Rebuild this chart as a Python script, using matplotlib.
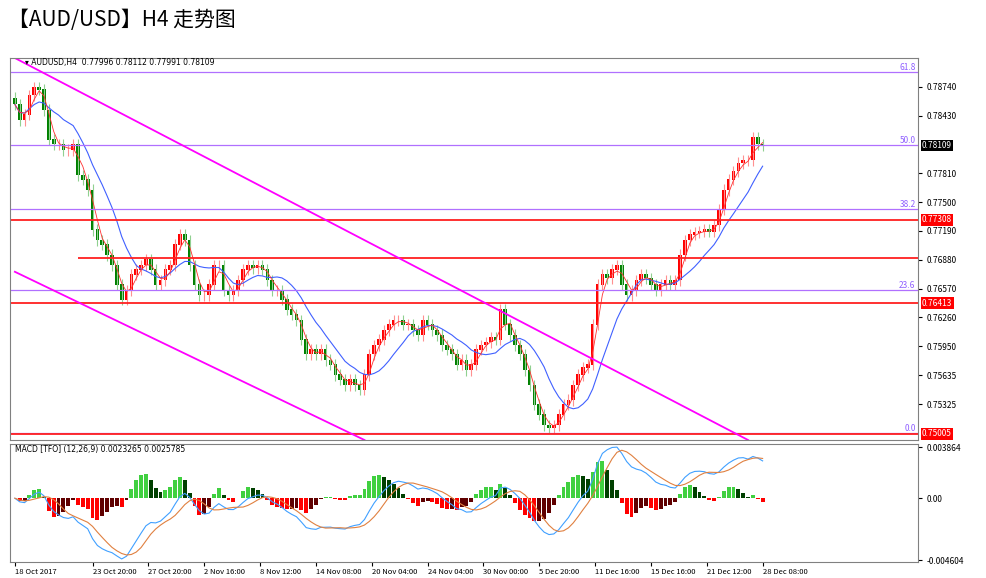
import matplotlib
matplotlib.use("Agg")
import matplotlib.pyplot as plt
import numpy as np

plt.rcParams['font.family'] = ['Noto Sans CJK SC', 'DejaVu Sans']

# H4 closes (roughly every second bar)
closes = [
    0.7855, 0.7838, 0.7844, 0.7865, 0.7873, 0.7871, 0.7849, 0.7817, 0.7812, 0.7812,
    0.7806, 0.7806, 0.7812, 0.7779, 0.7774, 0.7763, 0.7720, 0.7709, 0.7704, 0.7693,
    0.7682, 0.7661, 0.7645, 0.7655, 0.7672, 0.7677, 0.7682, 0.7688, 0.7677, 0.7661,
    0.7666, 0.7677, 0.7682, 0.7704, 0.7715, 0.7709, 0.7682, 0.7661, 0.7650, 0.7650,
    0.7661, 0.7682, 0.7682, 0.7655, 0.7650, 0.7655, 0.7666, 0.7677, 0.7682, 0.7679,
    0.7682, 0.7677, 0.7666, 0.7655, 0.7655, 0.7645, 0.7634, 0.7629, 0.7623, 0.7602,
    0.7586, 0.7591, 0.7586, 0.7591, 0.7580, 0.7575, 0.7564, 0.7559, 0.7553, 0.7559,
    0.7553, 0.7548, 0.7564, 0.7586, 0.7596, 0.7602, 0.7612, 0.7618, 0.7623, 0.7623,
    0.7618, 0.7618, 0.7612, 0.7607, 0.7623, 0.7618, 0.7612, 0.7607, 0.7596, 0.7591,
    0.7586, 0.7575, 0.7580, 0.7569, 0.7575, 0.7591, 0.7596, 0.7599, 0.7604, 0.7602,
    0.7634, 0.7618, 0.7607, 0.7596, 0.7586, 0.7569, 0.7553, 0.7532, 0.7521, 0.7510,
    0.7507, 0.7510, 0.7521, 0.7532, 0.7537, 0.7553, 0.7564, 0.7572, 0.7575, 0.7618,
    0.7661, 0.7672, 0.7668, 0.7677, 0.7682, 0.7661, 0.7650, 0.7655, 0.7666, 0.7672,
    0.7668, 0.7661, 0.7655, 0.7661, 0.7666, 0.7661, 0.7666, 0.7693, 0.7709, 0.7715,
    0.7717, 0.7718, 0.7720, 0.7718, 0.7725, 0.7742, 0.7763, 0.7774, 0.7783, 0.7792,
    0.7795, 0.7795, 0.7819, 0.7812, 0.78109,
]
first_open = 0.7862
wick = 0.0006

tick_labels = ["18 Oct 2017", "23 Oct 20:00", "27 Oct 20:00", "2 Nov 16:00", "8 Nov 12:00",
               "14 Nov 08:00", "20 Nov 04:00", "24 Nov 04:00", "30 Nov 00:00", "5 Dec 20:00",
               "11 Dec 16:00", "15 Dec 16:00", "21 Dec 12:00", "28 Dec 08:00"]
tick_idx = [0, 16, 27.5, 39, 50.5, 62, 73.5, 85, 96.5, 108, 119.5, 131, 142.5, 154]

price_ticks = [0.78740, 0.78430, 0.77810, 0.77500, 0.77190, 0.76880, 0.76570, 0.76260,
               0.75950, 0.75635, 0.75325]
fib_levels = [(0.7890, "61.8"), (0.78115, "50.0"), (0.7743, "38.2"), (0.7655, "23.6"), (0.7502, "0.0")]
red_levels = [0.77308, 0.76413, 0.75005]
resist = 0.7690

c = np.array(closes)
o = np.concatenate([[first_open], c[:-1]])
h = np.maximum(o, c) + wick
lo = np.minimum(o, c) - wick
n = len(c)
x = np.arange(n)


def sma(v, k):
    out = np.convolve(v, np.ones(k) / k, mode='full')[:len(v)]
    for i in range(k - 1):
        out[i] = v[:i + 1].mean()
    return out


def ema(v, k):
    a = 2 / (k + 1)
    out = np.empty_like(v)
    out[0] = v[0]
    for i in range(1, len(v)):
        out[i] = a * v[i] + (1 - a) * out[i - 1]
    return out


fig = plt.figure(figsize=(9.86, 5.78), dpi=100)
fig.text(0.008, 0.965, "【AUD/USD】H4 走势图", fontsize=15, va='center')

ax = fig.add_axes([10 / 986, 1 - 440 / 578, 908 / 986, 382 / 578])
ax2 = fig.add_axes([10 / 986, 1 - 562 / 578, 908 / 986, 118 / 578])

up = c >= o
ax.vlines(x, lo, h, colors=np.where(up, '#ff9090', '#90d090'), lw=0.8)
ax.bar(x, np.abs(c - o) + 0.00005, bottom=np.minimum(o, c), width=0.75,
       color=np.where(up, '#ff0000', '#008000'))
ax.plot(x, sma(c, 10), color='#4060ff', lw=0.8)
ax.plot(x, sma(c, 3), color='#ff3030', lw=0.6)

xmin, xmax = -1, 186
ymin, ymax = 0.7494, 0.7905
for lvl, lab in fib_levels:
    ax.axhline(lvl, color='#b070ff', lw=0.9)
    ax.text(xmax - 0.5, lvl, lab, color='#9060ff', fontsize=6, ha='right', va='bottom')
for lvl in red_levels:
    ax.axhline(lvl, color='#ff2020', lw=1.3)
    ax.text(xmax + 0.8, lvl, "%.5f" % lvl, color='white', fontsize=6, va='center',
            bbox=dict(boxstyle='square,pad=0.15', fc='#ff0000', ec='none'))
ax.hlines(resist, 13, xmax, color='#ff2020', lw=1.3)
ax.text(xmax + 0.8, c[-1], "%.5f" % c[-1], color='white', fontsize=6, va='center',
        bbox=dict(boxstyle='square,pad=0.15', fc='black', ec='none'))
ax.plot([0, 151], [0.7905, 0.7494], color='#ff00ff', lw=1.3)
ax.plot([0, 72], [0.7675, 0.7494], color='#ff00ff', lw=1.3)

ax.set_xlim(xmin, xmax)
ax.set_ylim(ymin, ymax)
ax.yaxis.tick_right()
ax.set_yticks(price_ticks)
ax.set_yticklabels(["%.5f" % p for p in price_ticks])
ax.set_xticks([])
ax.tick_params(axis='y', labelsize=6, length=3)
ax.text(2, 0.7900, "▾ AUDUSD,H4  0.77996 0.78112 0.77991 0.78109", fontsize=5.5, va='center',
        family=['DejaVu Sans'])

# MACD panel
macd = ema(c, 6) - ema(c, 13)
sig = sma(macd, 5)
hist = (macd - sig) * 1.6
d = np.diff(np.concatenate([[0], hist]))
cols = np.where(hist >= 0, np.where(d >= 0, '#40d040', '#004000'),
                np.where(d <= 0, '#ff0000', '#600000'))
ax2.bar(x, hist, width=0.8, color=cols)
ax2.plot(x, macd, color='#40a0ff', lw=0.8)
ax2.plot(x, sig, color='#e08040', lw=0.8)
ax2.set_xlim(xmin, xmax)
lim = np.abs(macd).max() * 1.05
ax2.set_ylim(-lim, lim * 0.85)
ax2.yaxis.tick_right()
ax2.set_yticks([lim * 0.8, 0, -lim * 0.97])
ax2.set_yticklabels(["0.003864", "0.00", "-0.004604"])
ax2.tick_params(axis='y', labelsize=6, length=3)
ax2.set_xticks(tick_idx)
ax2.set_xticklabels(tick_labels, ha='left')
ax2.tick_params(axis='x', labelsize=5.5, length=3, pad=1)
ax2.text(0, lim * 0.72, "MACD [TFO] (12,26,9) 0.0023265 0.0025785", fontsize=5.5,
         family=['DejaVu Sans'])

for a in (ax, ax2):
    for s in a.spines.values():
        s.set_color('#808080')
        s.set_linewidth(0.8)

fig.savefig("out.png", dpi=100)
